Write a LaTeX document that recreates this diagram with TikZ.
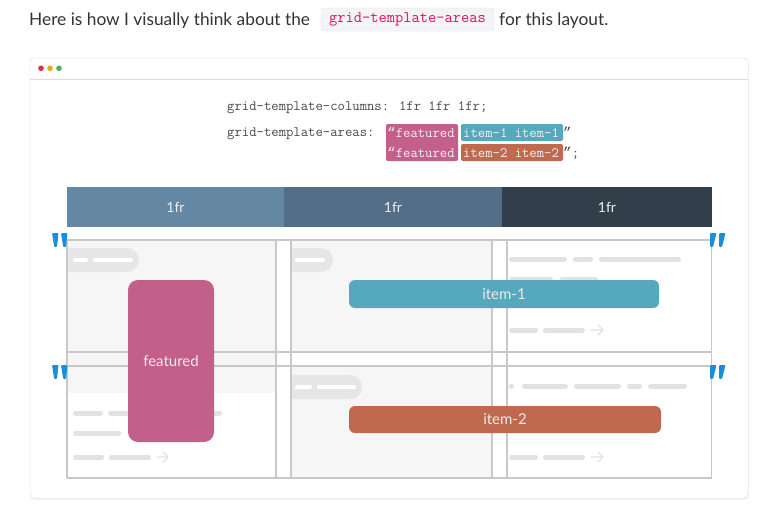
\documentclass[tikz,border=0pt]{standalone}
\usepackage{fontspec}
\setmainfont{Lato}
\newfontfamily\codefont{Latin Modern Mono}
\newfontfamily\qfont{Liberation Mono}
\definecolor{textC}{HTML}{333333}
\definecolor{chipred}{HTML}{DD1156}
\definecolor{chipbg}{HTML}{F4F4F7}
\definecolor{chipbd}{HTML}{DEDEE6}
\definecolor{cardbd}{HTML}{DCDCDC}
\definecolor{codeT}{HTML}{4A4A4A}
\definecolor{featC}{HTML}{C25F8B}
\definecolor{itemA}{HTML}{56A8BD}
\definecolor{itemB}{HTML}{BF6A4F}
\definecolor{hdrA}{HTML}{6487A3}
\definecolor{hdrB}{HTML}{536E87}
\definecolor{hdrC}{HTML}{323F4B}
\definecolor{gridL}{HTML}{C8C8C8}
\definecolor{cellG}{HTML}{F6F6F6}
\definecolor{pillG}{HTML}{E6E6E6}
\definecolor{lineG}{HTML}{E2E2E2}
\definecolor{quoteB}{HTML}{1A8FD6}
\definecolor{dotR}{HTML}{D8353B}
\definecolor{dotY}{HTML}{E8A521}
\definecolor{dotG}{HTML}{4CAF5A}
\newcommand\qstroke[3]{\fill[quoteB, rounded corners=1] (#1,#2) -- ++(6.5,0) -- ++(-1.5+#3,14) -- ++(-2.8,0) -- cycle;}
\begin{document}
\begin{tikzpicture}[x=1pt,y=-1pt,
  intro/.style={inner sep=0, anchor=base west, text=textC, font=\fontsize{17.3}{20}\selectfont},
  code/.style={inner sep=0, anchor=base west, text=codeT, font=\codefont\fontsize{14.3}{16}\selectfont},
  chiptext/.style={inner sep=0, anchor=base west, text=white!95!black, font=\codefont\fontsize{14.3}{16}\selectfont},
  hdr/.style={inner sep=0, minimum height=40, text=white!88!hdrA, font=\fontsize{14}{16}\selectfont},
  bar/.style={inner sep=0, text=white!92!black, font=\fontsize{15}{17}\selectfont},
  gline/.style={draw=gridL, line width=1.5},
  tline/.style={draw=lineG, line width=5, line cap=round},
  pdash/.style={draw=white, line width=3.5, line cap=round},
  arr/.style={draw=lineG, line width=1.2, line cap=round, line join=round}]
\useasboundingbox (0,0) rectangle (778,514);
\fill[white] (0,0) rectangle (778,514);

% intro sentence
\node[intro] (intro) at (29,25) {Here is how I visually think about the};
\node[draw=chipbd, fill=chipbg, rounded corners=3, minimum width=173, minimum height=23, inner sep=0,
      text=chipred, font=\codefont\fontsize{16}{18}\selectfont] (chip) at (407.5,19.5) {grid-template-areas};
\node[intro] (intro2) at (499,25) {for this layout.};

% card
\fill[black!5, rounded corners=5] (30,59.5) rectangle (749,500);
\draw[cardbd, fill=white, rounded corners=4] (30,58) rectangle (748,498);
\draw[cardbd] (30,79.5) -- (748,79.5);
\fill[dotR] (41,68.3) circle (2.8);
\fill[dotY] (50,68.3) circle (2.8);
\fill[dotG] (59,68.3) circle (2.8);

% code lines
\node[code] (cols) at (227,110) {grid-template-columns: 1fr 1fr 1fr;};
\node[code] (areas) at (227,136) {grid-template-areas:};
\node[fill=featC, rounded corners=2, minimum width=72, minimum height=37, inner sep=0] (fchip) at (422,142.5) {};
\node[fill=itemA, rounded corners=2, minimum width=102, minimum height=17, inner sep=0] (i1chip) at (512,132.5) {};
\node[fill=itemB, rounded corners=2, minimum width=102, minimum height=17, inner sep=0] (i2chip) at (512,152.5) {};
\node[chiptext] (f1) at (387,137) {{\qfont “}featured};
\node[chiptext] (f2) at (387,157) {{\qfont “}featured};
\node[chiptext] (t1) at (463,137) {item-1 item-1};
\node[chiptext] (t2) at (463,157) {item-2 item-2};
\node[code] (q1) at (563,137) {{\qfont ”}};
\node[code] (q2) at (563,157) {{\qfont ”};};

% column header
\node[hdr, fill=hdrA, minimum width=217] (c1) at (175.5,207) {1fr};
\node[hdr, fill=hdrB, minimum width=218] (c2) at (393,207) {1fr};
\node[hdr, fill=hdrC, minimum width=210] (c3) at (607,207) {1fr};

% cell backgrounds
\fill[cellG] (67,240) rectangle (276,393);
\fill[cellG] (291,240) rectangle (492,352);
\fill[cellG] (291,366) rectangle (492,478);

% pills
\begin{scope}
\clip (67,240) rectangle (276,352);
\fill[pillG, rounded corners=12] (50,248) rectangle (139,272);
\end{scope}
\draw[pdash] (74.75,260) -- (86.25,260) (94.75,260) -- (131.25,260);
\begin{scope}
\clip (291,240) rectangle (492,352);
\fill[pillG, rounded corners=12] (275,248) rectangle (333,272);
\end{scope}
\draw[pdash] (296.75,260) -- (323.25,260);
\begin{scope}
\clip (291,366) rectangle (492,478);
\fill[pillG, rounded corners=12] (275,375) rectangle (362,399);
\end{scope}
\draw[pdash] (296.75,387) -- (310.25,387) (318.75,387) -- (354.25,387);

% placeholder text lines, column 1 row 2
\draw[tline] (75.5,413) -- (100.5,413) (110.5,413) -- (150,413) (156,413) -- (219.5,413);
\draw[tline] (75.5,433) -- (118.5,433);
\draw[tline] (75.5,457) -- (101.5,457) (111.5,457) -- (148.5,457);
\draw[arr] (157,457) -- (168,457) (163,452) -- (168,457) -- (163,462);

% column 3 row 1
\draw[tline] (511.5,259) -- (564.5,259) (575.5,259) -- (590.5,259) (601.5,259) -- (678.5,259);
\draw[tline] (511.5,279) -- (550.5,279) (562.5,279) -- (595.5,279);
\draw[tline] (511.5,330) -- (535.5,330) (545.5,330) -- (582.5,330);
\draw[arr] (591,330) -- (603,330) (598,325) -- (603,330) -- (598,335);

% column 3 row 2
\draw[tline] (511,386) -- (511.5,386) (524.5,386) -- (565.5,386) (576.5,386) -- (618.5,386) (629.5,386) -- (639.5,386) (650.5,386) -- (684.5,386);
\draw[tline] (511.5,457) -- (535.5,457) (545.5,457) -- (582.5,457);
\draw[arr] (591,457) -- (603,457) (598,452) -- (603,457) -- (598,462);

% grid lines
\draw[gline] (67,240) -- (712,240) (67,352) -- (712,352) (67,366) -- (712,366) (67,478) -- (712,478);
\draw[gline] (67,240) -- (67,478) (276,240) -- (276,478) (291,240) -- (291,478)
             (492,240) -- (492,478) (507,240) -- (507,478) (711.5,240) -- (711.5,478);

% area bars
\node[bar, fill=featC, rounded corners=10, minimum width=86, minimum height=162] (featured) at (171,361) {featured};
\node[bar, fill=itemA, rounded corners=6, minimum width=310, minimum height=28] (item1) at (504,294) {item-1};
\node[bar, fill=itemB, rounded corners=6, minimum width=312, minimum height=27] (item2) at (505,419.5) {item-2};

% quote marks
\qstroke{52}{233}{0}\qstroke{61}{233}{0}
\qstroke{52}{365}{0}\qstroke{61}{365}{0}
\qstroke{710}{233}{-2}\qstroke{719}{233}{-2}
\qstroke{710}{365}{-2}\qstroke{719}{365}{-2}
\end{tikzpicture}
\end{document}
